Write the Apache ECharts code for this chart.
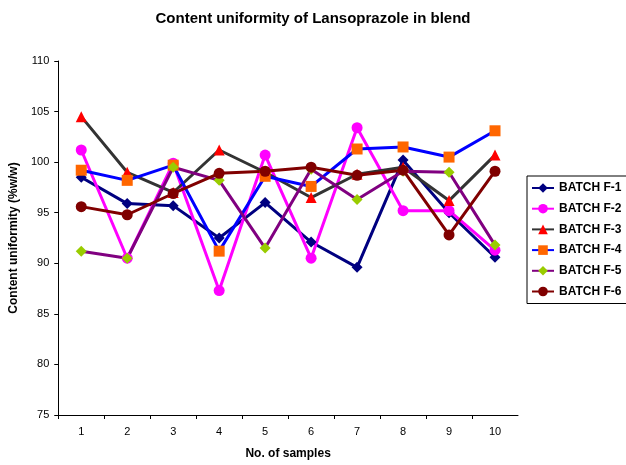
<!DOCTYPE html>
<html>
<head>
<meta charset="utf-8">
<title>Content uniformity of Lansoprazole in blend</title>
<script src="https://cdn.jsdelivr.net/npm/echarts@6/dist/echarts.min.js"></script>
<style>
  html, body { margin: 0; padding: 0; background: #fff; }
  #chart { width: 626px; height: 465px; }
</style>
</head>
<body>
<div id="chart"></div>
<script>
// Sample numbers along the x axis
const samples = ['1', '2', '3', '4', '5', '6', '7', '8', '9', '10'];

// Assay results (% w/w) per batch
const batchF1 = [98.5, 95.9, 95.7, 92.5, 96.0, 92.1, 89.6, 100.2, 95.0, 90.6];
const batchF2 = [101.2, 90.5, 99.9, 87.3, 100.7, 90.5, 103.4, 95.2, 95.2, 91.3];
const batchF3 = [104.5, 99.0, 97.0, 101.2, 99.0, 96.5, 98.8, 99.5, 96.2, 100.7];
const batchF4 = [99.2, 98.2, 99.7, 91.2, 98.6, 97.6, 101.3, 101.5, 100.5, 103.1];
const batchF5 = [91.2, 90.5, 99.5, 98.2, 91.5, 99.3, 96.3, 99.1, 99.0, 91.8];
const batchF6 = [95.6, 94.8, 96.9, 98.9, 99.1, 99.5, 98.7, 99.2, 92.8, 99.1];

const yTicks = { min: 75, max: 110, step: 5 };

const FONT = '"Liberation Sans", Arial, sans-serif';

function batchSeries(name, data, lineColor, markerColor, symbol, size) {
  return {
    name: name,
    type: 'line',
    data: data,
    symbol: symbol,
    symbolSize: size,
    showSymbol: true,
    lineStyle: { color: lineColor, width: 3 },
    itemStyle: { color: markerColor, borderWidth: 0 },
    emphasis: { disabled: true },
    animation: false
  };
}

const chart = echarts.init(document.getElementById('chart'), null, { renderer: 'canvas' });

chart.setOption({
  backgroundColor: '#ffffff',
  animation: false,
  title: {
    text: 'Content uniformity of Lansoprazole in blend',
    left: 'center',
    top: 6,
    textStyle: { fontFamily: FONT, fontSize: 15, fontWeight: 'bold', color: '#000' }
  },
  grid: { left: 57, right: 108, top: 61, bottom: 49, containLabel: false },
  legend: {
    orient: 'vertical',
    left: 527,
    top: 176,
    padding: [6, 12, 6, 4],
    itemWidth: 22,
    itemHeight: 12,
    itemGap: 8.7,
    borderColor: '#000',
    borderWidth: 1,
    textStyle: { fontFamily: FONT, fontSize: 12, fontWeight: 'bold', color: '#000' },
    data: ['BATCH F-1', 'BATCH F-2', 'BATCH F-3', 'BATCH F-4', 'BATCH F-5', 'BATCH F-6']
  },
  xAxis: {
    type: 'category',
    data: samples,
    boundaryGap: true,
    name: 'No. of samples',
    nameLocation: 'middle',
    nameGap: 33,
    nameTextStyle: { fontFamily: FONT, fontSize: 12, fontWeight: 'bold', color: '#000' },
    axisLine: { lineStyle: { color: '#000', width: 1 } },
    axisTick: { show: true, length: 4, inside: false, lineStyle: { color: '#000' } },
    axisLabel: { fontFamily: FONT, fontSize: 11, color: '#000', margin: 11 },
    splitLine: { show: false }
  },
  yAxis: {
    type: 'value',
    min: yTicks.min,
    max: yTicks.max,
    interval: yTicks.step,
    name: 'Content uniformity (%w/w)',
    nameLocation: 'middle',
    nameRotate: 90,
    nameGap: 32,
    nameTextStyle: { fontFamily: FONT, fontSize: 12, fontWeight: 'bold', color: '#000' },
    axisLine: { show: true, lineStyle: { color: '#000', width: 1 } },
    axisTick: { show: true, length: 4, lineStyle: { color: '#000' } },
    axisLabel: { fontFamily: FONT, fontSize: 11, color: '#000', margin: 9 },
    splitLine: { show: false }
  },
  series: [
    batchSeries('BATCH F-1', batchF1, '#000080', '#000080', 'diamond', 11),
    batchSeries('BATCH F-2', batchF2, '#FF00FF', '#FF00FF', 'circle', 11),
    batchSeries('BATCH F-3', batchF3, '#333333', '#FF0000', 'triangle', 11),
    batchSeries('BATCH F-4', batchF4, '#0000FF', '#FF6600', 'rect', 11),
    batchSeries('BATCH F-5', batchF5, '#800080', '#99CC00', 'diamond', 11),
    batchSeries('BATCH F-6', batchF6, '#800000', '#800000', 'circle', 11)
  ]
});
</script>
</body>
</html>
